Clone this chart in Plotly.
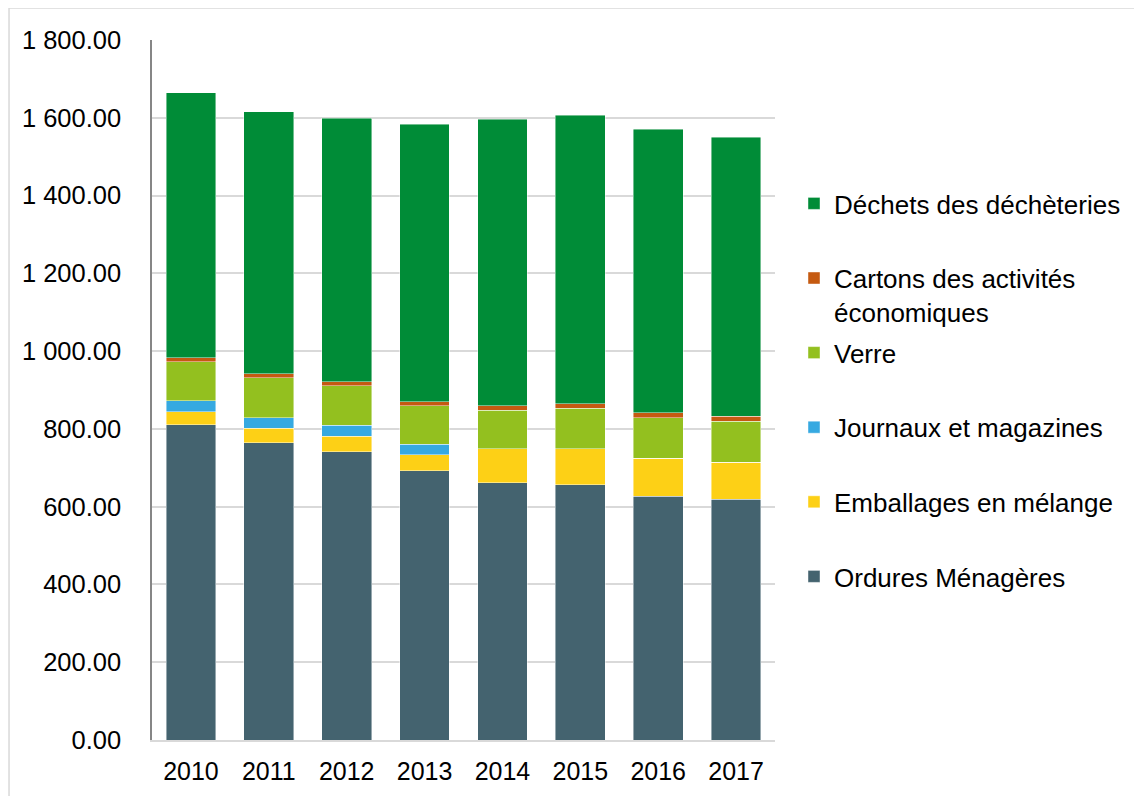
import plotly.graph_objects as go

years = ["2010", "2011", "2012", "2013", "2014", "2015", "2016", "2017"]
ordures = [811, 764, 741, 692, 661, 657, 627, 619]
emballages = [33, 38, 40, 41, 88, 92, 98, 95]
journaux = [29, 27, 28, 27, 0, 0, 0, 0]
verre = [100, 103, 102, 100, 99, 104, 104, 106]
cartons = [10, 10, 10, 10, 11, 12, 13, 12]
decheteries = [682, 673, 678, 713, 737, 741, 728, 718]

series = [
    ("Ordures Ménagères<br> ", ordures, "#44636F"),
    ("Emballages en mélange<br> ", emballages, "#FDD016"),
    ("Journaux et magazines<br> ", journaux, "#36A9E1"),
    ("Verre<br> ", verre, "#93C01F"),
    ("Cartons des activités<br>économiques", cartons, "#C55A11"),
    ("Déchets des déchèteries<br> ", decheteries, "#008C37"),
]

fig = go.Figure()
n = len(series)
for i, (name, vals, col) in enumerate(series):
    fig.add_trace(go.Bar(
        x=years, y=vals, name=name, legendgroup="g%d" % i,
        legendrank=(n - i) * 10,
        marker=dict(color=col, line=dict(color="rgba(255,255,255,0.55)", width=0.8)),
    ))

FONT = "Liberation Sans, Arial, sans-serif"
fig.update_layout(
    width=1142, height=796,
    barmode="stack", bargap=0.36,
    separators=". ",
    paper_bgcolor="white", plot_bgcolor="white",
    margin=dict(l=144, r=375, t=32, b=64),
    font=dict(family=FONT, size=25, color="#000000"),
    showlegend=True,
    legend=dict(
        traceorder="grouped", valign="top",
        x=1.0305, xanchor="left", y=0.80, yanchor="top",
        font=dict(family=FONT, size=26, color="#000000"),
        itemclick=False, tracegroupgap=4, bgcolor="rgba(0,0,0,0)",
    ),
    xaxis=dict(
        showline=True, linecolor="#D9D9D9", linewidth=1.5,
        ticks="", ticklabelstandoff=8,
        tickfont=dict(family=FONT, size=25),
    ),
    yaxis=dict(
        range=[0, 1800], tick0=0, dtick=200,
        tickformat=",.2f",
        showline=True, linecolor="#868686", linewidth=1.5,
        showgrid=True, gridcolor="#D9D9D9", gridwidth=1.5,
        ticks="", ticklabelstandoff=24,
        tickfont=dict(family=FONT, size=25.5),
        zeroline=False,
    ),
    shapes=[dict(
        type="rect", xref="paper", yref="paper",
        x0=-0.2295, x1=1.62, y0=1.0457, y1=-0.12,
        line=dict(color="#D9D9D9", width=1.5), fillcolor="rgba(0,0,0,0)", layer="below",
    )],
)

fig.write_html("out.html")
